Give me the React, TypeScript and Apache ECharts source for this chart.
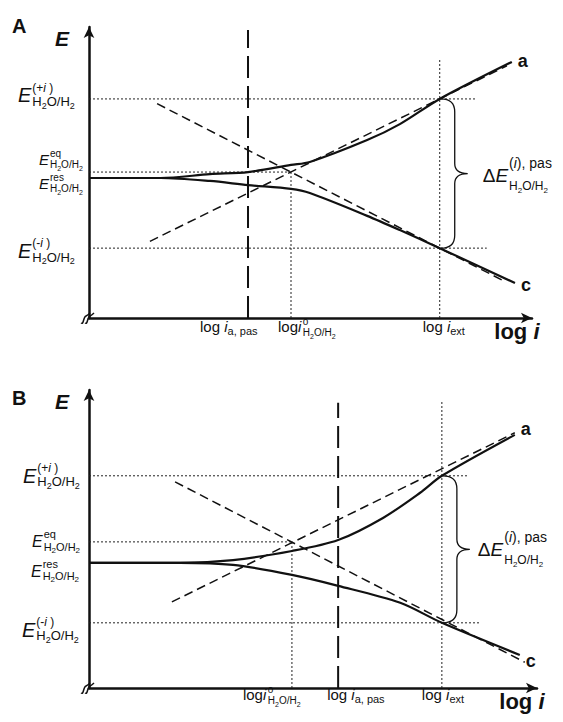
import React, { useEffect, useRef } from "react";
import * as echarts from "echarts";

// ---------------- DATA (arbitrary units: x = log i, y = E) ----------------
// Panel A
const A_logI = [3.55, 4.51, 7.83]; // log i_a,pas ; log i°_H2O/H2 ; log i_ext
const A_E = [7.4, 4.93, 4.73, 2.36]; // E(+i) ; E eq ; E res ; E(-i)
const A_curveA_x = [0, 1.6, 2.7, 3.55, 4.51, 4.93, 6.21, 6.94, 7.83, 9.44];
const A_curveA_y = [4.73, 4.73, 4.86, 4.93, 5.17, 5.27, 6.01, 6.55, 7.4, 8.65];
const A_curveC_x = [0, 1.6, 2.7, 3.55, 4.51, 4.93, 6.21, 6.94, 7.83, 9.51];
const A_curveC_y = [4.73, 4.73, 4.63, 4.49, 4.36, 4.22, 3.45, 2.97, 2.36, 1.18];
const A_anodicTafel = [[1.36, 2.59], [9.33, 8.52]];
const A_cathodicTafel = [[1.52, 7.24], [9.29, 1.23]];
const A_guideEnd = [8.66, 8.88]; // right ends of E(+i) / E(-i) guides
const A_vTop = [9.73, 8.72]; // tops of the a,pas line and the ext guide

// Panel B
const B_logI = [5.5, 4.48, 7.79];
const B_E = [7.0, 4.82, 4.13, 2.15];
const B_curveA_x = [0, 2.01, 3.18, 4.48, 5.5, 6.49, 7.31, 7.79, 9.4];
const B_curveA_y = [4.13, 4.13, 4.22, 4.52, 4.88, 5.61, 6.44, 7.0, 8.35];
const B_curveC_x = [0, 2.01, 3.18, 4.48, 5.5, 6.87, 7.79, 9.51];
const B_curveC_y = [4.13, 4.13, 4.06, 3.73, 3.37, 2.81, 2.15, 1.09];
const B_anodicTafel = [[1.83, 2.84], [9.4, 8.42]];
const B_cathodicTafel = [[1.9, 6.8], [9.62, 0.85]];
const B_guideEnd = [8.37, 8.63];
const B_vTop = [9.41, 9.5];

const AXIS_MAX_X = 9.89;
const AXIS_MAX_Y = 9.83;

// Label texts
const PANEL_NAMES = ["A", "B"];
const CURVE_NAMES = ["a", "c"];
const SUP_PLUS = ["(+", "i", " )"];
const SUP_MINUS = ["(-", "i", " )"];
const SUP_EQ = "eq";
const SUP_RES = "res";
const SUB_H2O = ["H", "2", "O/H", "2"];

// ---------------- helpers ----------------
const FONT = '"Liberation Sans", Arial, Helvetica, sans-serif';
const INK = "#111";

type Run = { t: string; s: number; it?: boolean; b?: boolean; dy?: number };
type Stack = { sup: Run[]; sub: Run[]; gap?: number };
type Item = Run | Stack;

let ctx: CanvasRenderingContext2D | null = null;
const fontStr = (r: Run) =>
  `${r.it ? "italic " : ""}${r.b ? "bold " : ""}${r.s}px ${FONT}`;
const measure = (r: Run) => {
  if (!ctx) ctx = document.createElement("canvas").getContext("2d");
  ctx!.font = fontStr(r);
  return ctx!.measureText(r.t).width;
};

function placeRuns(x: number, base: number, runs: Run[], out: any[]) {
  let cx = x;
  for (const r of runs) {
    out.push({
      type: "text",
      x: cx,
      y: base + (r.dy || 0) - 0.35 * r.s,
      silent: true,
      z: 100,
      style: {
        text: r.t,
        font: fontStr(r),
        fill: INK,
        align: "left",
        verticalAlign: "middle",
        textAlign: "left",
        textVerticalAlign: "middle",
      },
    });
    cx += measure(r);
  }
  return cx - x;
}
const runsW = (runs: Run[]) => runs.reduce((w, r) => w + measure(r), 0);
function itemsW(items: Item[]) {
  let w = 0;
  for (const it of items) {
    if ("sup" in it) w += (it.gap ?? 1) + Math.max(runsW(it.sup), runsW(it.sub));
    else w += measure(it);
  }
  return w;
}
function place(x: number, base: number, items: Item[], out: any[]) {
  let cx = x;
  for (const it of items) {
    if ("sup" in it) {
      const g = it.gap ?? 1;
      const w1 = placeRuns(cx + g, base, it.sup, out);
      const w2 = placeRuns(cx + g, base, it.sub, out);
      cx += g + Math.max(w1, w2);
    } else {
      cx += placeRuns(cx, base, [it], out);
    }
  }
  return cx - x;
}
const subH2O = (s: number, d: number, dy: number, ddy: number): Run[] =>
  SUB_H2O.map((t, i) => (i % 2 ? { t, s: d, dy: dy + ddy } : { t, s, dy }));

const SIZES: Record<string, any> = {
  L: { E: 20, sup: 12, supDy: -10.5, sub: 13, dig: 9, subDy: 3.5, digDy: 3 },
  M: { E: 16, sup: 11, supDy: -9, sub: 11, dig: 8, subDy: 3.5, digDy: 2.5 },
  S: { E: 15, sup: 10, supDy: -8, sub: 10, dig: 7, subDy: 3, digDy: 2.5 },
};
function eLabel(size: string, sup: string | string[]): Item[] {
  const z = SIZES[size];
  const supRuns: Run[] = Array.isArray(sup)
    ? sup.map((t, i) => ({ t, s: z.sup, dy: z.supDy, it: i === 1 }))
    : [{ t: sup, s: z.sup, dy: z.supDy }];
  return [
    { t: "E", s: z.E, it: true },
    { sup: supRuns, sub: subH2O(z.sub, z.dig, z.subDy, z.digDy), gap: 1 },
  ];
}

const zip = (xs: number[], ys: number[]) => xs.map((x, i) => [x, ys[i]]);

// ---------------- option ----------------
function panelSeries(
  g: number,
  logI: number[],
  E: number[],
  ax: number[],
  ay: number[],
  cx: number[],
  cy: number[],
  anodic: number[][],
  cathodic: number[][],
  guideEnd: number[],
  vTop: number[],
  labelOffsets: number[][]
) {
  const base = { type: "line", xAxisIndex: g, yAxisIndex: g, symbol: "none", silent: true };
  const dotted = { color: "#222", width: 1, type: [2, 2] };
  const tafel = { color: INK, width: 1.5, type: [9, 5] };
  const curve = { color: INK, width: 2.2 };
  const endLab = (t: string, off: number[]) => ({
    show: true,
    formatter: t,
    fontFamily: FONT,
    fontWeight: "bold",
    fontSize: 18,
    color: INK,
    distance: 6,
    offset: off,
  });
  return [
    { ...base, data: [[0, E[0]], [guideEnd[0], E[0]]], lineStyle: dotted },
    { ...base, data: [[0, E[1]], [logI[1], E[1]]], lineStyle: dotted },
    { ...base, data: [[0, E[3]], [guideEnd[1], E[3]]], lineStyle: dotted },
    { ...base, data: [[logI[1], 0], [logI[1], E[1]]], lineStyle: dotted },
    { ...base, data: [[logI[2], 0], [logI[2], vTop[1]]], lineStyle: dotted },
    { ...base, data: [[logI[0], 0], [logI[0], vTop[0]]], lineStyle: { color: INK, width: 2, type: [22, 8] } },
    { ...base, data: anodic, lineStyle: tafel },
    { ...base, data: cathodic, lineStyle: tafel },
    {
      ...base,
      data: zip(ax, ay),
      smooth: 0.3,
      lineStyle: curve,
      endLabel: endLab(CURVE_NAMES[0], labelOffsets[0]),
    },
    {
      ...base,
      data: zip(cx, cy),
      smooth: 0.3,
      lineStyle: curve,
      endLabel: endLab(CURVE_NAMES[1], labelOffsets[1]),
    },
    {
      type: "custom",
      xAxisIndex: g,
      yAxisIndex: g,
      silent: true,
      clip: false,
      data: [[logI[2], E[0], E[3]]],
      encode: { x: 0, y: [1, 2] },
      renderItem: (_p: any, api: any) => {
        const t = api.coord([api.value(0), api.value(1)]);
        const b = api.coord([api.value(0), api.value(2)]);
        const x0 = t[0] + 1;
        const xs = x0 + 14;
        const xt = x0 + 27;
        const y1 = t[1];
        const y2 = b[1];
        const ym = (y1 + y2) / 2;
        const d = `M${x0} ${y1} Q${xs} ${y1} ${xs} ${y1 + 13} L${xs} ${ym - 10} Q${xs} ${ym} ${xt} ${ym} Q${xs} ${ym} ${xs} ${ym + 10} L${xs} ${y2 - 13} Q${xs} ${y2} ${x0} ${y2}`;
        return {
          type: "path",
          shape: { pathData: d },
          style: { stroke: INK, fill: "none", lineWidth: 1.3 },
        };
      },
    },
    {
      type: "custom",
      xAxisIndex: g,
      yAxisIndex: g,
      silent: true,
      clip: false,
      z: 10,
      data: [[0, 0]],
      renderItem: (_p: any, api: any) => {
        const p = api.coord([0, 0]);
        const x = p[0];
        const y = p[1];
        const s = (dx: number) =>
          `M${x - 8 + dx} ${y + 5} C${x - 5 + dx} ${y + 7} ${x - 6 + dx} ${y - 1} ${x - 3 + dx} ${y - 2} C${x - 1 + dx} ${y - 3} ${x + dx} ${y - 4} ${x + 1 + dx} ${y - 5}`;
        return {
          type: "group",
          children: [
            { type: "path", shape: { pathData: s(0) }, style: { stroke: INK, fill: "none", lineWidth: 1.5 } },
            { type: "path", shape: { pathData: s(4) }, style: { stroke: INK, fill: "none", lineWidth: 1.5 } },
          ],
        };
      },
    },
  ];
}

const axisCommon = {
  type: "value",
  min: 0,
  axisLine: {
    show: true,
    onZero: false,
    lineStyle: { color: INK, width: 2.5 },
    symbol: ["none", "arrow"],
    symbolSize: [8, 11],
  },
  axisTick: { show: false },
  axisLabel: { show: false },
  splitLine: { show: false },
};

function buildOption() {
  return {
    animation: false,
    backgroundColor: "#fff",
    grid: [
      { left: 89, top: 27, right: 31, bottom: 404 },
      { left: 89, top: 390, right: 26, bottom: 34 },
    ],
    xAxis: [
      { ...axisCommon, gridIndex: 0, max: AXIS_MAX_X },
      { ...axisCommon, gridIndex: 1, max: AXIS_MAX_X },
    ],
    yAxis: [
      { ...axisCommon, gridIndex: 0, max: AXIS_MAX_Y },
      { ...axisCommon, gridIndex: 1, max: AXIS_MAX_Y },
    ],
    series: [
      ...panelSeries(0, A_logI, A_E, A_curveA_x, A_curveA_y, A_curveC_x, A_curveC_y, A_anodicTafel, A_cathodicTafel, A_guideEnd, A_vTop, [[0, -1], [0, 2]]),
      ...panelSeries(1, B_logI, B_E, B_curveA_x, B_curveA_y, B_curveC_x, B_curveC_y, B_anodicTafel, B_cathodicTafel, B_guideEnd, B_vTop, [[0, -6], [0, 6]]),
    ],
  };
}

// label layout per panel (pixel offsets)
const LAYOUT = [
  {
    letterBase: 33,
    yLab: [
      { dx: -71, dy: 3.5, size: "L" },
      { dx: -50, dy: -7, size: "S" },
      { dx: -50, dy: 11, size: "S" },
      { dx: -71, dy: 10, size: "L" },
    ],
    xBase: 14,
    xDx: [-48, -13, -17],
    dE: [15, 8.5],
  },
  {
    letterBase: 405,
    yLab: [
      { dx: -66, dy: 7, size: "L" },
      { dx: -57, dy: 5, size: "M" },
      { dx: -58, dy: 14, size: "M" },
      { dx: -67, dy: 14, size: "L" },
    ],
    xBase: 12,
    xDx: [-11, -49, -20],
    dE: [8, 7],
  },
];

function buildGraphics(chart: any) {
  const out: any[] = [];
  const P = (g: number, x: number, y: number) =>
    chart.convertToPixel({ gridIndex: g }, [x, y]) as number[];
  const panels = [
    { logI: A_logI, E: A_E },
    { logI: B_logI, E: B_E },
  ];
  panels.forEach((pn, g) => {
    const L = LAYOUT[g];
    const o = P(g, 0, 0);
    const axX = o[0];
    const axY = o[1];
    const tipY = P(g, 0, AXIS_MAX_Y)[1] - 5.5;
    const tipX = P(g, AXIS_MAX_X, 0)[0] + 5.5;

    place(12, L.letterBase, [{ t: PANEL_NAMES[g], s: 20, b: true }], out);
    place(axX - 34, tipY + 24, [{ t: "E", s: 21, b: true, it: true }], out);

    // y-axis labels
    const sups: (string | string[])[] = [SUP_PLUS, SUP_EQ, SUP_RES, SUP_MINUS];
    L.yLab.forEach((yl, i) => {
      const y = P(g, 0, pn.E[i])[1];
      place(axX + yl.dx, y + yl.dy, eLabel(yl.size, sups[i]), out);
    });

    // x-axis labels
    const xb = axY + L.xBase;
    const lab: Item[][] = [
      [
        { t: "log ", s: 15 },
        { t: "i", s: 15, it: true },
        { t: "a, pas", s: 11, dy: 2.5 },
      ],
      [
        { t: "log", s: 15 },
        { t: "i", s: 15, it: true },
        { sup: [{ t: "o", s: 10, dy: -7 }], sub: subH2O(10, 7, 4, 2.5), gap: 1.5 },
      ],
      [
        { t: "log ", s: 15 },
        { t: "i", s: 15, it: true },
        { t: "ext", s: 11, dy: 2.5 },
      ],
    ];
    lab.forEach((items, i) => {
      const x = P(g, pn.logI[i], 0)[0];
      place(x + L.xDx[i], xb, items, out);
    });
    const axName: Item[] = [
      { t: "log ", s: 22, b: true },
      { t: "i", s: 22, b: true, it: true },
    ];
    place(tipX + 2 - itemsW(axName), axY + 21, axName, out);

    // Delta E label next to brace tip
    const top = P(g, pn.logI[2], pn.E[0]);
    const bot = P(g, pn.logI[2], pn.E[3]);
    const tipx = top[0] + 28;
    const ym = (top[1] + bot[1]) / 2;
    place(tipx + L.dE[0], ym + L.dE[1], [
      { t: "Δ", s: 19 },
      { t: "E", s: 19, it: true },
      {
        sup: [
          { t: "(", s: 14, dy: -14 },
          { t: "i", s: 14, it: true, dy: -14 },
          { t: "), pas", s: 14, dy: -14 },
        ],
        sub: subH2O(12, 8, 8, 3),
        gap: 1,
      },
    ], out);
  });
  return out;
}

export default function App() {
  const ref = useRef<HTMLDivElement>(null);
  useEffect(() => {
    document.body.style.margin = "0";
    const chart = echarts.init(ref.current!, null, { renderer: "svg" });
    chart.setOption(buildOption() as any);
    chart.setOption({ graphic: { elements: buildGraphics(chart) } } as any);
    return () => chart.dispose();
  }, []);
  return <div ref={ref} style={{ width: 563, height: 722 }} />;
}
